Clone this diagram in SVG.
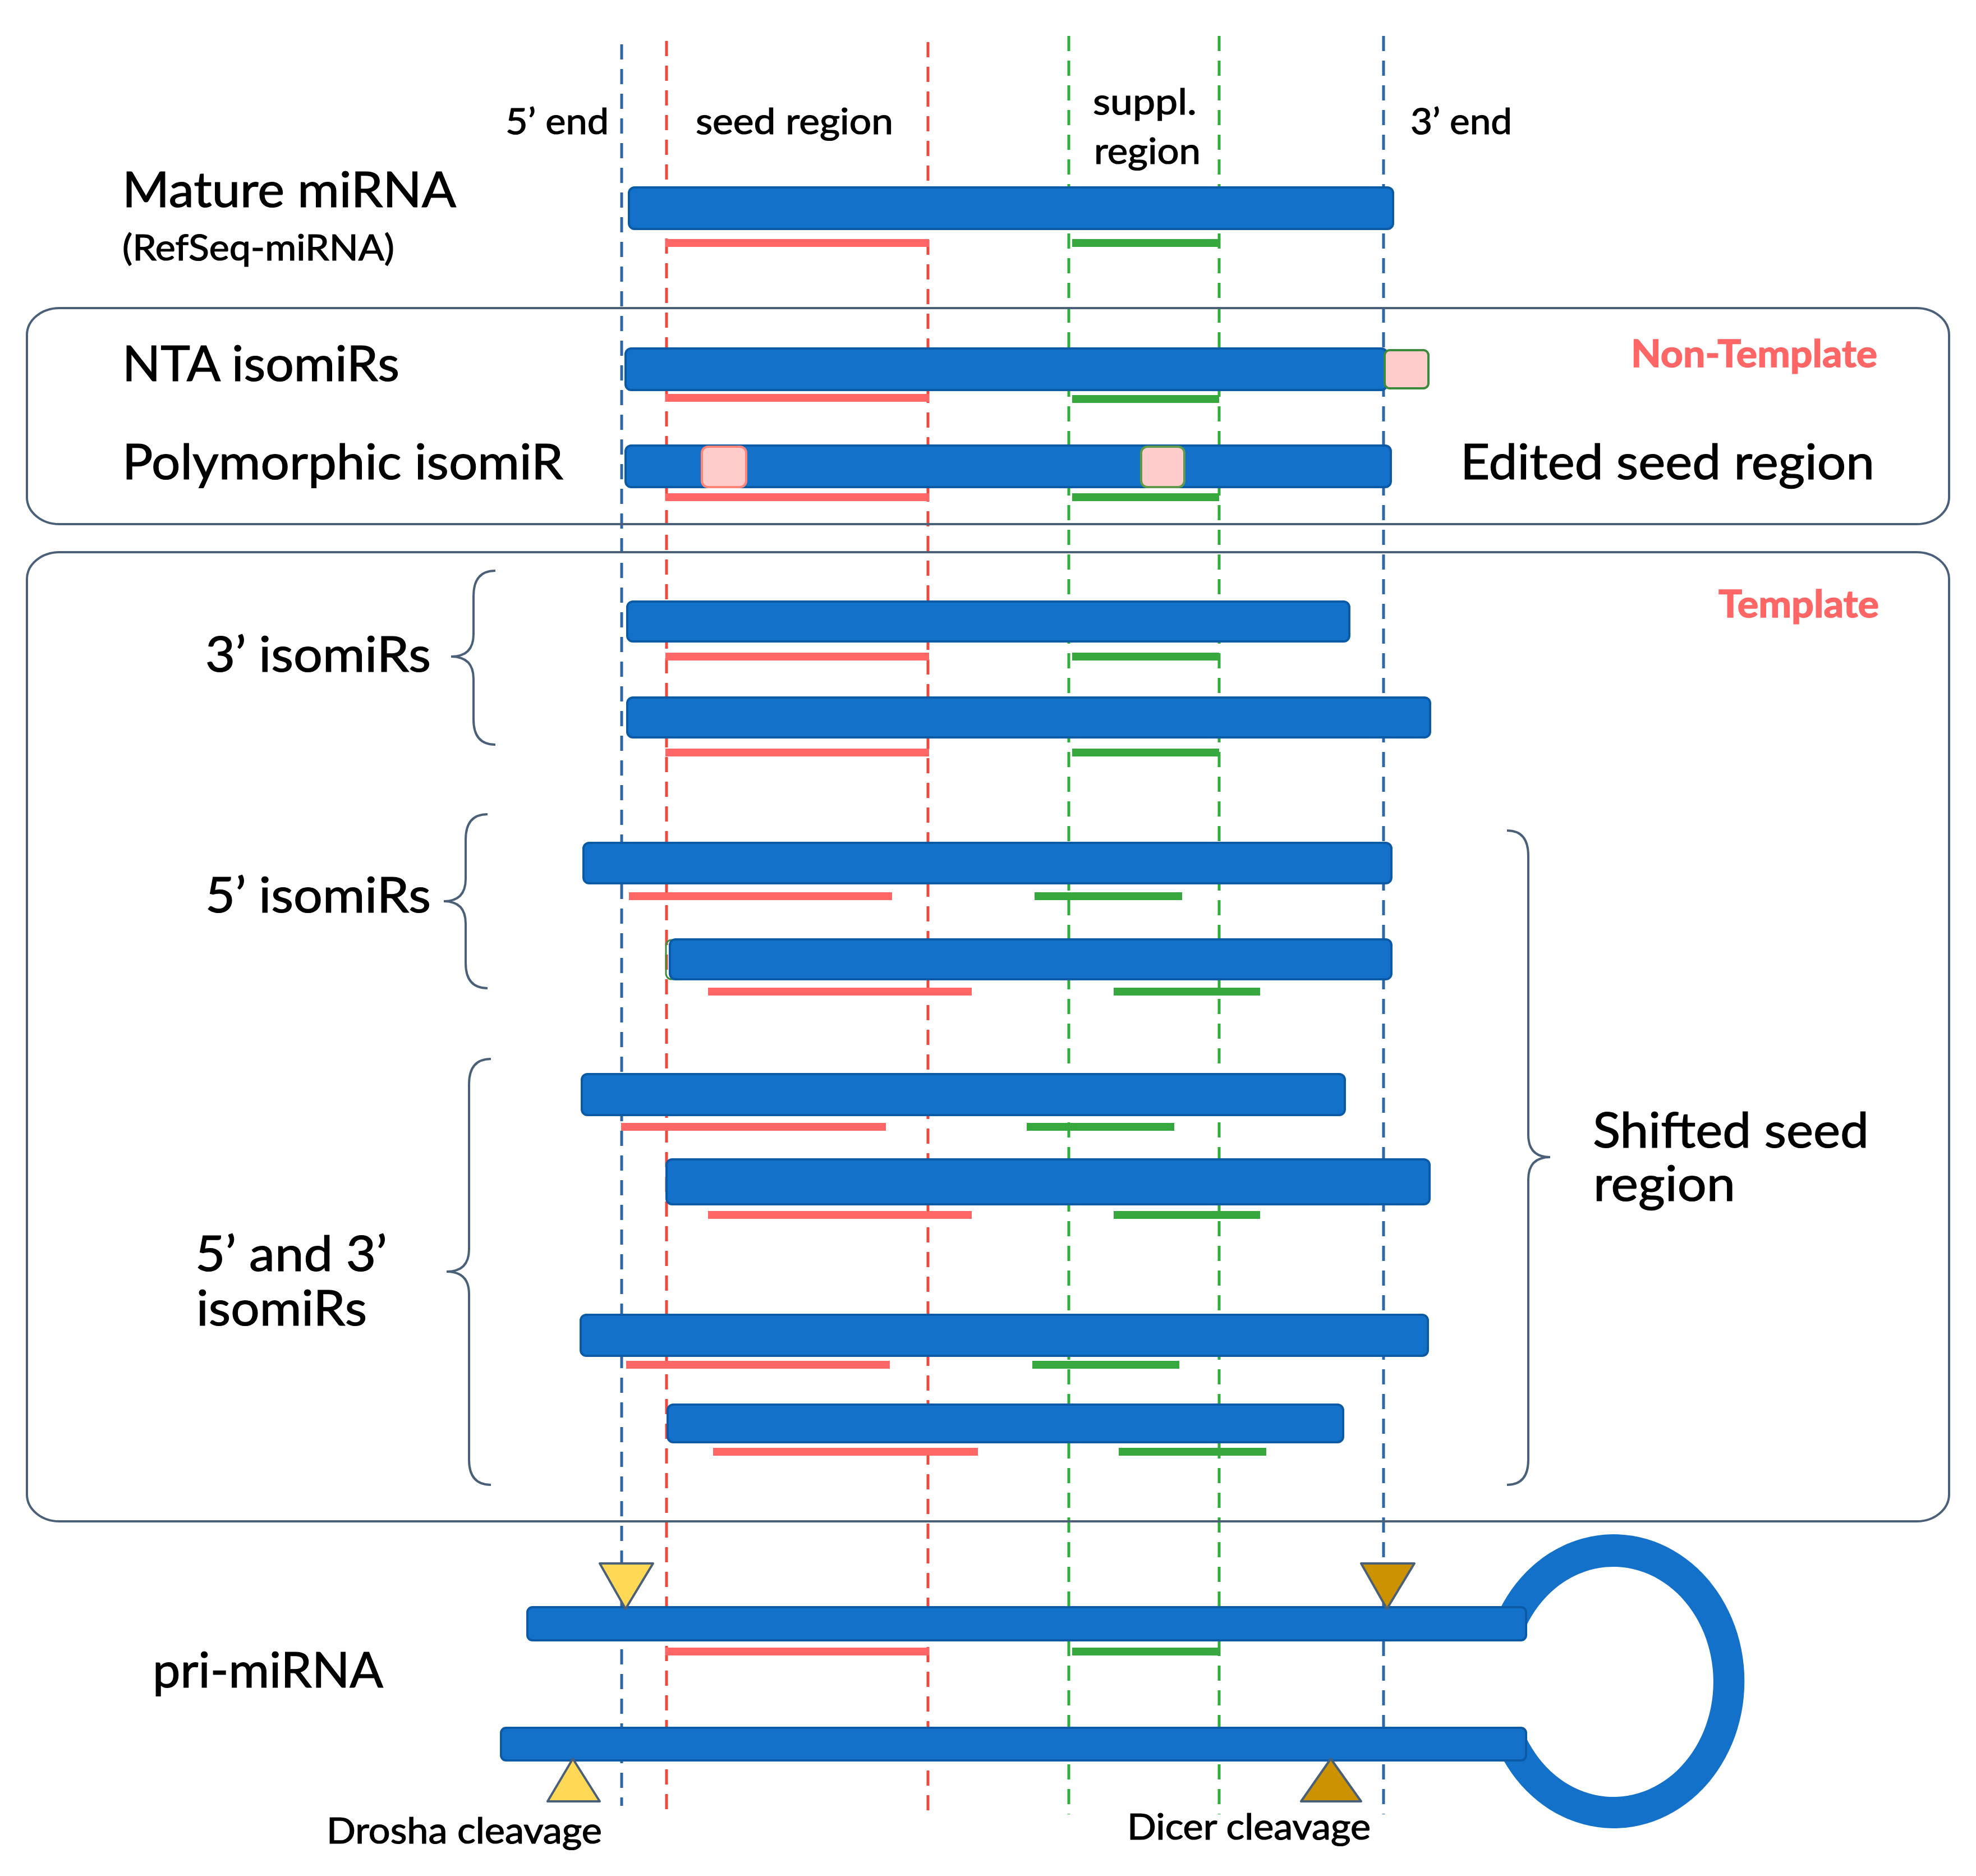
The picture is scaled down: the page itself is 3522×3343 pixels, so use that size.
<svg xmlns="http://www.w3.org/2000/svg" width="3522" height="3343" viewBox="0 0 3522 3343">
<style>
text{font-family:Lato,"Liberation Sans",sans-serif;fill:#000;stroke:#000;stroke-width:1.2px}
.l{font-size:87px}
.s{font-size:63px}
.tag{font-size:66px;font-weight:700;fill:#FF6666;stroke:#FF6666;stroke-width:1.5px}
.bar{fill:#1371C9;stroke:#0B5AA6;stroke-width:4}
.frame{fill:none;stroke:#4A6078;stroke-width:4}
.brace{fill:none;stroke:#4A6078;stroke-width:4}
.g{fill:none;stroke-width:5;stroke-dasharray:27 17}
.gb{stroke:#2F66A8}.gr{stroke:#F0483C}.gg{stroke:#2FAE3C}
.seed{stroke:#FF6666;stroke-width:14;fill:none}
.sup{stroke:#36A83E;stroke-width:14;fill:none}
.pk{fill:#FFCCCC;stroke-width:4}
.tri{stroke:#4A6078;stroke-width:4;stroke-linejoin:round}
.y{fill:#FFD855}.d{fill:#CC9200}
</style>
<g id="connectors">
<line class="g gb" x1="1108" y1="79" x2="1108" y2="3218"/>
<line class="g gr" x1="1188" y1="73" x2="1188" y2="3233"/>
<line class="g gr" x1="1654" y1="75" x2="1654" y2="3233"/>
<line class="g gg" x1="1905" y1="64" x2="1905" y2="3233"/>
<line class="g gg" x1="2173" y1="64" x2="2173" y2="3233"/>
<line class="g gb" x1="2466" y1="64" x2="2466" y2="3233"/>
</g>
<g id="frame-non-template"><rect class="frame" x="48" y="549" width="3426" height="385" rx="58" ry="48"/></g>
<g id="frame-template"><rect class="frame" x="48" y="984" width="3426" height="1727" rx="58" ry="48"/></g>

<g id="labels-top">
<text class="s" x="901" y="239" textLength="184" lengthAdjust="spacingAndGlyphs">5’ end</text>
<text class="s" x="1240" y="239" textLength="352" lengthAdjust="spacingAndGlyphs">seed region</text>
<text class="s" x="1948" y="204" textLength="185" lengthAdjust="spacingAndGlyphs">suppl.</text>
<text class="s" x="1950" y="292" textLength="190" lengthAdjust="spacingAndGlyphs">region</text>
<text class="s" x="2514" y="239" textLength="181" lengthAdjust="spacingAndGlyphs">3’ end</text>
</g>

<g id="mature-mirna">
<text class="l" x="218" y="369" textLength="595" lengthAdjust="spacingAndGlyphs">Mature miRNA</text>
<text class="s" x="218" y="464" textLength="485" lengthAdjust="spacingAndGlyphs">(RefSeq-miRNA)</text>
<rect class="bar" x="1121" y="334" width="1362" height="74" rx="10"/>
<path class="seed" d="M1186 433H1656"/><path class="sup" d="M1911 433H2173"/>
</g>
<g id="nta-isomirs">
<text class="l" x="218" y="679" textLength="494" lengthAdjust="spacingAndGlyphs">NTA isomiRs</text>
<text class="tag" x="2907" y="654" textLength="439" lengthAdjust="spacingAndGlyphs">Non-Template</text>
<rect class="bar" x="1115" y="621" width="1357" height="74" rx="10"/>
<rect class="pk" x="2468" y="624" width="78" height="68" rx="9" stroke="#3C8A3C"/>
<path class="seed" d="M1186 709H1656"/><path class="sup" d="M1911 711H2173"/>
</g>
<g id="polymorphic-isomir">
<text class="l" x="218" y="854" textLength="786" lengthAdjust="spacingAndGlyphs">Polymorphic isomiR</text>
<text class="l" x="2603" y="854" textLength="738" lengthAdjust="spacingAndGlyphs">Edited seed region</text>
<rect class="bar" x="1115" y="794" width="1364" height="74" rx="10"/>
<rect class="pk" x="1251" y="796" width="79" height="72" rx="11" stroke="#FF8478"/>
<rect class="pk" x="2034" y="796" width="77" height="72" rx="11" stroke="#5E9A4A"/>
<path class="seed" d="M1186 886H1656"/><path class="sup" d="M1911 886H2173"/>
</g>

<g id="template-label"><text class="tag" x="3063" y="1100" textLength="286" lengthAdjust="spacingAndGlyphs">Template</text></g>

<g id="isomirs-3">
<text class="l" x="366" y="1197" textLength="402" lengthAdjust="spacingAndGlyphs">3’ isomiRs</text>
<path class="brace" d="M883 1017Q844 1017 844 1062V1130Q844 1170 804 1170Q844 1170 844 1210V1282Q844 1327 883 1327"/>
</g>
<g id="isomir-3-a">
<rect class="bar" x="1118" y="1072" width="1287" height="71" rx="10"/>
<path class="seed" d="M1186 1170H1656"/><path class="sup" d="M1911 1170H2173"/>
</g>
<g id="isomir-3-b">
<rect class="bar" x="1118" y="1243" width="1431" height="71" rx="10"/>
<path class="seed" d="M1186 1341H1656"/><path class="sup" d="M1911 1341H2173"/>
</g>

<g id="isomirs-5">
<text class="l" x="366" y="1626" textLength="402" lengthAdjust="spacingAndGlyphs">5’ isomiRs</text>
<path class="brace" d="M869 1451Q830 1451 830 1496V1566Q830 1606 791 1606Q830 1606 830 1646V1716Q830 1761 869 1761"/>
</g>
<g id="isomir-5-a">
<rect class="bar" x="1040" y="1502" width="1440" height="72" rx="10"/>
<path class="seed" d="M1121 1597H1590"/><path class="sup" d="M1844 1597H2107"/>
</g>
<g id="isomir-5-b">
<rect x="1187" y="1675" width="24" height="70" rx="10" fill="none" stroke="#3C8A3C" stroke-width="3"/>
<rect class="bar" x="1194" y="1674" width="1286" height="71" rx="10"/>
<path class="seed" d="M1262 1767H1732"/><path class="sup" d="M1985 1767H2246"/>
</g>

<g id="isomirs-5-3">
<text class="l" x="348" y="2265" textLength="342" lengthAdjust="spacingAndGlyphs">5’ and 3’</text>
<text class="l" x="350" y="2362" textLength="304" lengthAdjust="spacingAndGlyphs">isomiRs</text>
<path class="brace" d="M875 1887Q836 1887 836 1932V2226Q836 2266 796 2266Q836 2266 836 2306V2601Q836 2646 875 2646"/>
</g>
<g id="isomir-53-a">
<rect class="bar" x="1037" y="1914" width="1360" height="73" rx="10"/>
<path class="seed" d="M1107 2008H1579"/><path class="sup" d="M1830 2008H2093"/>
</g>
<g id="isomir-53-b">
<rect class="bar" x="1188" y="2066" width="1360" height="80" rx="10"/>
<path class="seed" d="M1262 2165H1732"/><path class="sup" d="M1985 2165H2246"/>
</g>
<g id="isomir-53-c">
<rect class="bar" x="1035" y="2343" width="1510" height="73" rx="10"/>
<path class="seed" d="M1116 2432H1586"/><path class="sup" d="M1840 2432H2102"/>
</g>
<g id="isomir-53-d">
<rect class="bar" x="1190" y="2503" width="1204" height="67" rx="10"/>
<path class="seed" d="M1271 2587H1743"/><path class="sup" d="M1994 2587H2257"/>
</g>

<g id="shifted-seed-region">
<path class="brace" d="M2686 1480Q2724 1480 2724 1525V2022Q2724 2062 2763 2062Q2724 2062 2724 2102V2601Q2724 2646 2686 2646"/>
<text class="l" x="2839" y="2045" textLength="492" lengthAdjust="spacingAndGlyphs">Shifted seed</text>
<text class="l" x="2840" y="2140" textLength="253" lengthAdjust="spacingAndGlyphs">region</text>
</g>

<g id="pri-mirna">
<text class="l" x="272" y="3007" textLength="411" lengthAdjust="spacingAndGlyphs">pri-miRNA</text>
<path fill="#1371C9" d="M2673 2868A233 262 0 1 1 2673 3124L2720 3096A178 205 0 1 0 2720 2898Z"/>
<rect class="bar" x="940" y="2864" width="1780" height="59" rx="9"/>
<rect class="bar" x="893" y="3079" width="1827" height="58" rx="9"/>
<path class="seed" d="M1186 2943H1656"/><path class="sup" d="M1911 2943H2175"/>
</g>
<g id="drosha-cleavage">
<polygon class="tri y" points="1069,2786 1164,2786 1115,2867"/>
<polygon class="tri y" points="976,3210 1069,3210 1021,3134"/>
<text class="s" x="582" y="3285" textLength="491" lengthAdjust="spacingAndGlyphs">Drosha cleavage</text>
</g>
<g id="dicer-cleavage">
<polygon class="tri d" points="2426,2786 2521,2786 2472,2867"/>
<polygon class="tri d" points="2319,3210 2426,3210 2372,3134"/>
<text class="s" x="2009" y="3278" textLength="434" lengthAdjust="spacingAndGlyphs">Dicer cleavage</text>
</g>
</svg>
